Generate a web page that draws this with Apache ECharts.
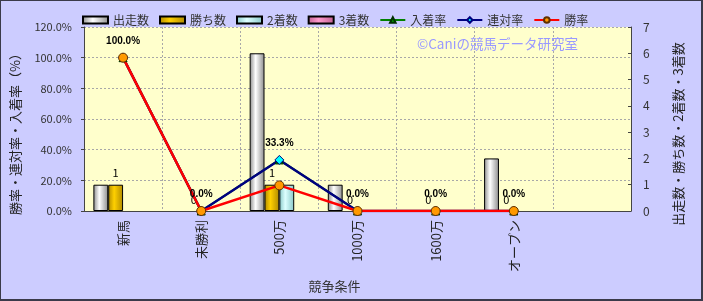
<!DOCTYPE html>
<html>
<head>
<meta charset="utf-8">
<script src="https://cdn.jsdelivr.net/npm/echarts@6/dist/echarts.min.js"></script>
<style>
html,body{margin:0;padding:0;background:#CCCCFF;}
#c{width:703px;height:301px;box-sizing:border-box;border:1px solid #3a3a4a;border-right-width:2px;border-bottom-width:2px;}
</style>
</head>
<body>
<div id="c"></div>
<script>
const categories = ['新馬', '未勝利', '500万', '1000万', '1600万', 'オープン', ''];
const starts  = [1, 0, 6, 1, 0, 2, null];   // 出走数
const wins    = [1, 0, 1, 0, 0, 0, null];   // 勝ち数
const seconds = [0, 0, 1, 0, 0, 0, null];   // 2着数
const thirds  = [0, 0, 0, 0, 0, 0, null];   // 3着数
const placeRate = [100, 0, 33.3, 0, 0, 0, null]; // 入着率
const quinRate  = [100, 0, 33.3, 0, 0, 0, null]; // 連対率
const winRate   = [100, 0, 16.7, 0, 0, 0, null]; // 勝率
const leftTicks = { min: 0, max: 120, interval: 20 };
const rightTicks = { min: 0, max: 7, interval: 1 };

const FONT = '"Noto Sans CJK JP", sans-serif';
function grad(edge, mid) {
  return new echarts.graphic.LinearGradient(0, 0, 1, 0, [
    { offset: 0, color: edge }, { offset: 0.4, color: mid }, { offset: 1, color: edge }
  ]);
}
// hide the outline of zero-height bars
function barData(arr) {
  return arr.map(v => v === 0 ? { value: v, itemStyle: { borderWidth: 0 } } : v);
}
const chart = echarts.init(document.getElementById('c'), null, { renderer: 'canvas' });
const barBase = { type: 'bar', yAxisIndex: 1, barGap: '0%', barCategoryGap: '24%' };
chart.setOption({
  backgroundColor: '#CCCCFF',
  animation: false,
  textStyle: { fontFamily: FONT },
  legend: {
    left: 76, top: 8, itemGap: 10, itemWidth: 25, itemHeight: 7,
    textStyle: { fontFamily: FONT, fontSize: 12, color: '#333' },
    data: [
      { name: '出走数', icon: 'rect' }, { name: '勝ち数', icon: 'rect' },
      { name: '2着数', icon: 'rect' }, { name: '3着数', icon: 'rect' },
      '入着率', '連対率', '勝率'
    ]
  },
  grid: { left: 76, right: 70, top: 26, bottom: 88, show: true, backgroundColor: '#FFFFCC', borderWidth: 0 },
  xAxis: {
    type: 'category', data: categories, boundaryGap: true,
    name: '競争条件', nameLocation: 'middle', nameGap: 67,
    nameTextStyle: { fontFamily: FONT, fontSize: 13, color: '#333', padding: [0, 46, 0, 0] },
    axisLine: { lineStyle: { color: '#444', width: 1 } },
    axisTick: { show: false },
    axisLabel: { rotate: 90, fontFamily: FONT, fontSize: 13, color: '#222', margin: 9, interval: 0 },
    splitLine: { show: true, lineStyle: { color: '#A8A8A8', type: [2, 2] } }
  },
  yAxis: [
    {
      type: 'value', min: leftTicks.min, max: leftTicks.max, interval: leftTicks.interval,
      name: '勝率・連対率・入着率（%）', nameLocation: 'middle', nameGap: 62, nameRotate: 90,
      nameTextStyle: { fontFamily: FONT, fontSize: 13, color: '#222', padding: [0, 0, 0, -24] },
      axisLine: { show: true, lineStyle: { color: '#444' } },
      axisTick: { show: true, length: 3, lineStyle: { color: '#444' } },
      axisLabel: { formatter: v => v.toFixed(1) + '%', fontFamily: FONT, fontSize: 11, color: '#333', margin: 12 },
      splitLine: { show: true, lineStyle: { color: '#A8A8A8', type: [2, 2] } }
    },
    {
      type: 'value', min: rightTicks.min, max: rightTicks.max, interval: rightTicks.interval,
      name: '出走数・勝ち数・2着数・3着数', nameLocation: 'middle', nameGap: 41, nameRotate: 90,
      nameTextStyle: { fontFamily: FONT, fontSize: 13, color: '#222', padding: [0, 0, 0, -30] },
      axisLine: { show: true, lineStyle: { color: '#444' } },
      axisTick: { show: true, length: 3, inside: true, lineStyle: { color: '#444' } },
      axisLabel: { fontFamily: FONT, fontSize: 12, color: '#333', margin: 12 },
      splitLine: { show: false }
    }
  ],
  series: [
    Object.assign({}, barBase, { name: '出走数', data: barData(starts),
      itemStyle: { color: grad('#8C8C8C', '#FFFFFF'), borderColor: '#000', borderWidth: 1 } }),
    Object.assign({}, barBase, { name: '勝ち数', data: barData(wins),
      itemStyle: { color: grad('#B08A00', '#FFD000'), borderColor: '#000', borderWidth: 1 },
      label: { show: true, position: 'top', distance: 6, fontFamily: FONT, fontSize: 11, color: '#000',
        formatter: p => p.value == null ? '' : String(p.value) } }),
    Object.assign({}, barBase, { name: '2着数', data: barData(seconds),
      itemStyle: { color: grad('#88C8C8', '#DDFFFF'), borderColor: '#000', borderWidth: 1 } }),
    Object.assign({}, barBase, { name: '3着数', data: barData(thirds),
      itemStyle: { color: grad('#C06090', '#FF99CC'), borderColor: '#000', borderWidth: 1 } }),
    {
      name: '入着率', type: 'line', yAxisIndex: 0, data: placeRate,
      symbol: 'triangle', symbolSize: 8,
      lineStyle: { color: '#008000', width: 2 },
      itemStyle: { color: '#00A000', borderColor: '#003000', borderWidth: 1 },
      label: { show: true, position: 'top', distance: 7, fontFamily: 'Liberation Sans, sans-serif', fontSize: 10, fontWeight: 'bold', color: '#000',
        formatter: p => p.value == null ? '' : p.value.toFixed(1) + '%' }
    },
    {
      name: '連対率', type: 'line', yAxisIndex: 0, data: quinRate,
      symbol: 'diamond', symbolSize: 9,
      lineStyle: { color: '#000080', width: 2.5 },
      itemStyle: { color: '#00FFFF', borderColor: '#000080', borderWidth: 1 }
    },
    {
      name: '勝率', type: 'line', yAxisIndex: 0, data: winRate,
      symbol: 'circle', symbolSize: 9,
      lineStyle: { color: '#FF0000', width: 2.5 },
      itemStyle: { color: '#FF9900', borderColor: '#603000', borderWidth: 1 }
    }
  ],
  graphic: [
    { type: 'text', left: 416, top: 36, z: 1,
      style: { text: '©Caniの競馬データ研究室', fill: '#9999FF', font: '13.5px "Noto Sans CJK JP", sans-serif' } }
  ]
});
</script>
</body>
</html>
